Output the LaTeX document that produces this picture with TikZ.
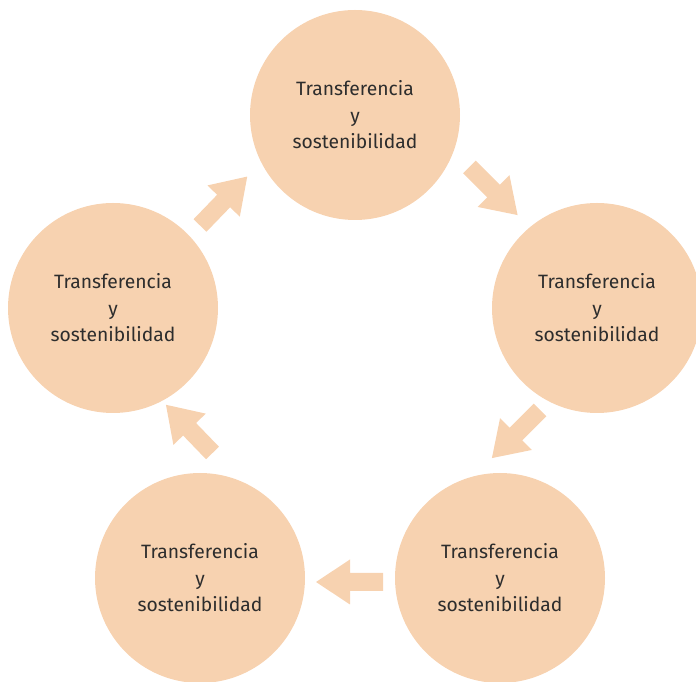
\documentclass[tikz,border=0pt]{standalone}
\usepackage{fontspec}
\setmainfont{Fira Sans}
\definecolor{circfill}{RGB}{247,210,176}
\definecolor{txtcol}{RGB}{45,45,45}
\newcommand\blockarr[3]{%
  \begin{scope}[shift={(#1)}, rotate=#2]
    \fill[circfill] (0,-9) -- (#3-34,-9) -- (#3-34,-22.5) -- (#3,0) -- (#3-34,22.5) -- (#3-34,9) -- (0,9) -- cycle;
  \end{scope}}
\begin{document}
\begin{tikzpicture}[x=1pt,y=1pt,
  stage/.style={circle, fill=circfill, minimum size=210pt, inner sep=0pt,
    align=center, text=txtcol, font=\fontsize{19.3}{26.5}\selectfont}]
\useasboundingbox (0,0) rectangle (696,682);
\clip (0,0) rectangle (696,682);
\node[stage] (top) at (355,567) {Transferencia\\y\\sostenibilidad};
\node[stage] (right) at (597,374) {Transferencia\\y\\sostenibilidad};
\node[stage] (br) at (500,104) {Transferencia\\y\\sostenibilidad};
\node[stage] (bl) at (200,104) {Transferencia\\y\\sostenibilidad};
\node[stage] (left) at (113,374) {Transferencia\\y\\sostenibilidad};
\coordinate (a1) at (469.5,515);
\coordinate (a2) at (540,272);
\coordinate (a3) at (383,100);
\coordinate (a4) at (212.5,229);
\coordinate (a5) at (200,456.5);
\blockarr{a1}{-45}{68}
\blockarr{a2}{-135}{68}
\blockarr{a3}{180}{67}
\blockarr{a4}{134}{67}
\blockarr{a5}{46}{68}
\end{tikzpicture}
\end{document}
